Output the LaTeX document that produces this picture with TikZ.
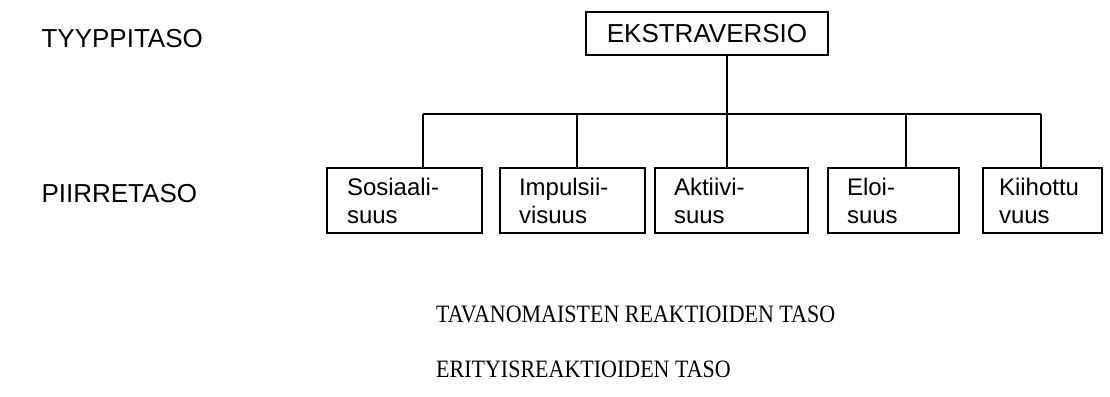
\documentclass[tikz,border=0pt]{standalone}
\usepackage{fontspec}
\setmainfont{Liberation Serif}
\setsansfont{Liberation Sans}
\usepackage{tikz}

\tikzset{
  level/.style={anchor=base west, font=\sffamily\fontsize{26}{30}\selectfont},
  tier/.style={anchor=base west, inner sep=0pt, font=\rmfamily\fontsize{25}{30}\selectfont},
  topbox/.style={draw, line width=1.2pt, minimum height=43, inner sep=0pt,
    font=\sffamily\fontsize{26}{30}\selectfont},
  trait/.style={draw, line width=1.2pt, minimum height=65, inner xsep=0pt,
    font=\sffamily\fontsize{24}{28}\selectfont, align=left},
  branch/.style={line width=1.2pt}
}

\begin{document}
\begin{tikzpicture}[x=1pt, y=1pt]
\useasboundingbox (0,0) rectangle (1110,396);

% levels on the left
\node[level] (tyyppi) at (38,348) {TYYPPITASO};
\node[level] (piirre) at (38,193) {PIIRRETASO};

% type and traits
\node[topbox, minimum width=242] (ekstra) at (707,362.5) {EKSTRAVERSIO};
\node[trait, minimum width=155, text width=115] (sos) at (404.5,195.5) {Sosiaali-\\suus};
\node[trait, minimum width=145, text width=107] (imp) at (572.5,195.5) {Impulsii-\\visuus};
\node[trait, minimum width=153, text width=115] (akt) at (731.5,195.5) {Aktiivi-\\suus};
\node[trait, minimum width=131, text width=93] (eloi) at (893.5,195.5) {Eloi-\\suus};
\node[trait, minimum width=119, text width=87] (kii) at (1042.5,195.5) {Kiihottu\\vuus};

% branches
\foreach \n/\x in {sos/423, imp/577, akt/727, eloi/906, kii/1041}
  \draw[branch] (\x,282) coordinate (j\n) -- (j\n |- \n.north);
\draw[branch] (jsos) -- (jkii);
\draw[branch] (jakt |- ekstra.south) -- (jakt);

% lower levels
\node[tier] (tavan) at (436,73) {\scalebox{0.88}[1]{TAVANOMAISTEN REAKTIOIDEN TASO}};
\node[tier] (erit) at (436,19) {\scalebox{0.88}[1]{ERITYISREAKTIOIDEN TASO}};
\end{tikzpicture}
\end{document}
